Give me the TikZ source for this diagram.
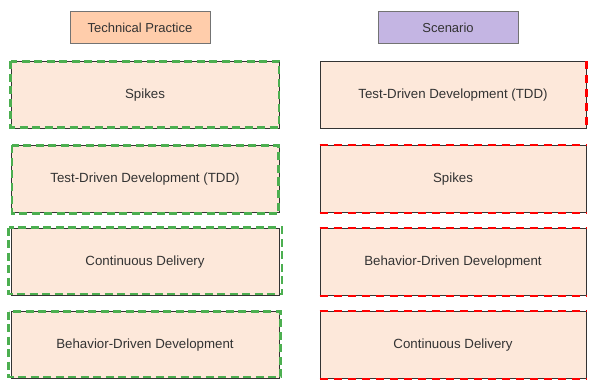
\documentclass[tikz,border=0pt]{standalone}
\usepackage{fontspec}
\setmainfont{Liberation Sans}
\usetikzlibrary{positioning}
\definecolor{headpeach}{HTML}{FFCDAB}
\definecolor{headlilac}{HTML}{C4B5E3}
\definecolor{cardfill}{HTML}{FDE8DA}
\definecolor{greendash}{HTML}{4CAF50}
\definecolor{reddash}{HTML}{FF0000}

\begin{document}
\begin{tikzpicture}[x=1pt,y=-1pt,
	header/.style={draw=black!55,line width=1pt,minimum width=140pt,minimum height=32pt,inner sep=0pt,font=\fontsize{13}{15}\selectfont,text=black!80},
	card/.style={draw=black!80,fill=cardfill,line width=1pt,minimum height=67pt,inner sep=0pt,font=\fontsize{13.3}{15}\selectfont,text=black!80},
	greenline/.style={draw=greendash,line width=2.6pt,dash pattern=on 8pt off 4.5pt},
	redline/.style={draw=reddash,line width=2.6pt,dash pattern=on 8pt off 6pt}]
	\useasboundingbox (0,0) rectangle (599,390);
	% column headers
	\node[header,fill=headpeach] (practice) at (140,28) {Technical Practice};
	\node[header,fill=headlilac] (scenario) at (448,28) {Scenario};
	% left column
	\node[card,minimum width=268pt] (p1) at (145,95) {Spikes};
	\node[card,minimum width=268pt] (p2) at (145,179) {Test-Driven Development (TDD)};
	\node[card,minimum width=268pt] (p3) at (145,262) {Continuous Delivery};
	\node[card,minimum width=268pt] (p4) at (145,345) {Behavior-Driven Development};
	% right column
	\node[card,minimum width=266pt] (s1) at (453,95) {Test-Driven Development (TDD)};
	\node[card,minimum width=266pt] (s2) at (453,179) {Spikes};
	\node[card,minimum width=266pt] (s3) at (453,262) {Behavior-Driven Development};
	\node[card,minimum width=266pt] (s4) at (453,345) {Continuous Delivery};
	% green dashed outlines
	\draw[greenline] ([yshift=-0.5pt]p1.north west) rectangle ([xshift=-0.5pt,yshift=1.5pt]p1.south east);
	\draw[greenline] ([xshift=1.5pt,yshift=-0.5pt]p2.north west) rectangle ([xshift=-1pt,yshift=-0.5pt]p2.south east);
	\draw[greenline] ([xshift=-2pt,yshift=0.5pt]p3.north west) rectangle ([xshift=2.5pt,yshift=2pt]p3.south east);
	\draw[greenline] ([xshift=-2pt,yshift=-0.5pt]p4.north west) rectangle ([xshift=1pt,yshift=2pt]p4.south east);
	% red dashed edges
	\draw[redline] (s1.north east) -- (s1.south east);
	\draw[redline] (s2.north west) -- (s2.north east);
	\draw[redline] (s2.south west) -- (s2.south east);
	\draw[redline] (s3.north west) -- (s3.north east);
	\draw[redline,line width=1.6pt] (s3.south west) -- (s3.south east);
	\draw[redline] (s4.north west) -- (s4.north east);
	\draw[redline] (s4.south west) -- (s4.south east);
\end{tikzpicture}
\end{document}
